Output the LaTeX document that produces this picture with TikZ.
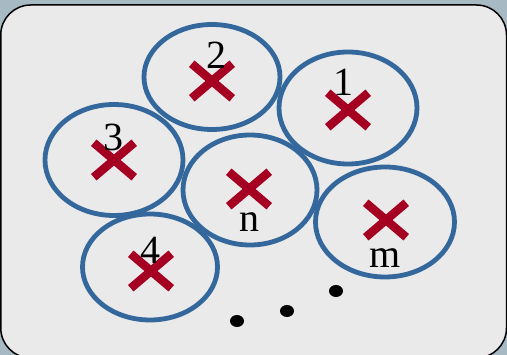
\documentclass[tikz,border=0pt]{standalone}
\usepackage{fontspec}
\setmainfont{Liberation Serif}
\usetikzlibrary{shapes.geometric,shapes.misc}
\definecolor{bgblue}{HTML}{A7B9C2}
\definecolor{panel}{HTML}{EAEAEA}
\definecolor{ringblue}{HTML}{34689C}
\definecolor{crossred}{HTML}{A50021}
\tikzset{
  ring/.style={ellipse, draw=ringblue, line width=4.8pt, inner sep=0pt, minimum width=136pt, minimum height=108pt},
  mark x/.style={cross out, draw=crossred, line width=8.5pt, inner sep=0pt, minimum width=32pt, minimum height=26pt},
  lbl/.style={inner sep=0pt, font=\fontsize{40}{48}\selectfont},
  dotnode/.style={ellipse, fill=black, inner sep=0pt, minimum width=14pt, minimum height=12pt}
}
\begin{document}
\begin{tikzpicture}[x=1pt,y=-1pt]
\useasboundingbox (0,0) rectangle (507,355);
\fill[bgblue] (0,0) rectangle (507,355);
\begin{scope}
\clip (0,0) rectangle (507,355);
\draw[fill=panel, draw=black, line width=1.5pt, rounded corners=30pt] (0.75,5) rectangle (506.5,358);
\end{scope}
% rings
\node[ring, minimum width=136pt, minimum height=105pt] (r2) at (212,77) {};
\node[ring, minimum width=138pt, minimum height=112pt] (r1) at (348,108) {};
\node[ring, minimum width=138pt, minimum height=111pt] (r3) at (114,160) {};
\node[ring, minimum width=134pt, minimum height=110pt] (rn) at (250,190) {};
\node[ring, minimum width=139pt, minimum height=110pt] (rm) at (385,222) {};
\node[ring, minimum width=135pt, minimum height=106pt] (r4) at (150,267) {};
% crosses
\node[mark x] (x2) at (212,81) {};
\node[mark x] (x1) at (348,110) {};
\node[mark x] (x3) at (114,160) {};
\node[mark x] (xn) at (249,189) {};
\node[mark x] (xm) at (386,220) {};
\node[mark x] (x4) at (151,271) {};
% labels
\node[lbl] (l2) at (216,55) {2};
\node[lbl] (l1) at (343,82) {1};
\node[lbl] (l3) at (113,137) {3};
\node[lbl] (ln) at (249,222) {n};
\node[lbl] (lm) at (385,258) {m};
\node[lbl] (l4) at (150,250) {4};
% dots
\node[dotnode] (d1) at (237,321) {};
\node[dotnode] (d2) at (287,311) {};
\node[dotnode] (d3) at (336,291) {};
\end{tikzpicture}
\end{document}
